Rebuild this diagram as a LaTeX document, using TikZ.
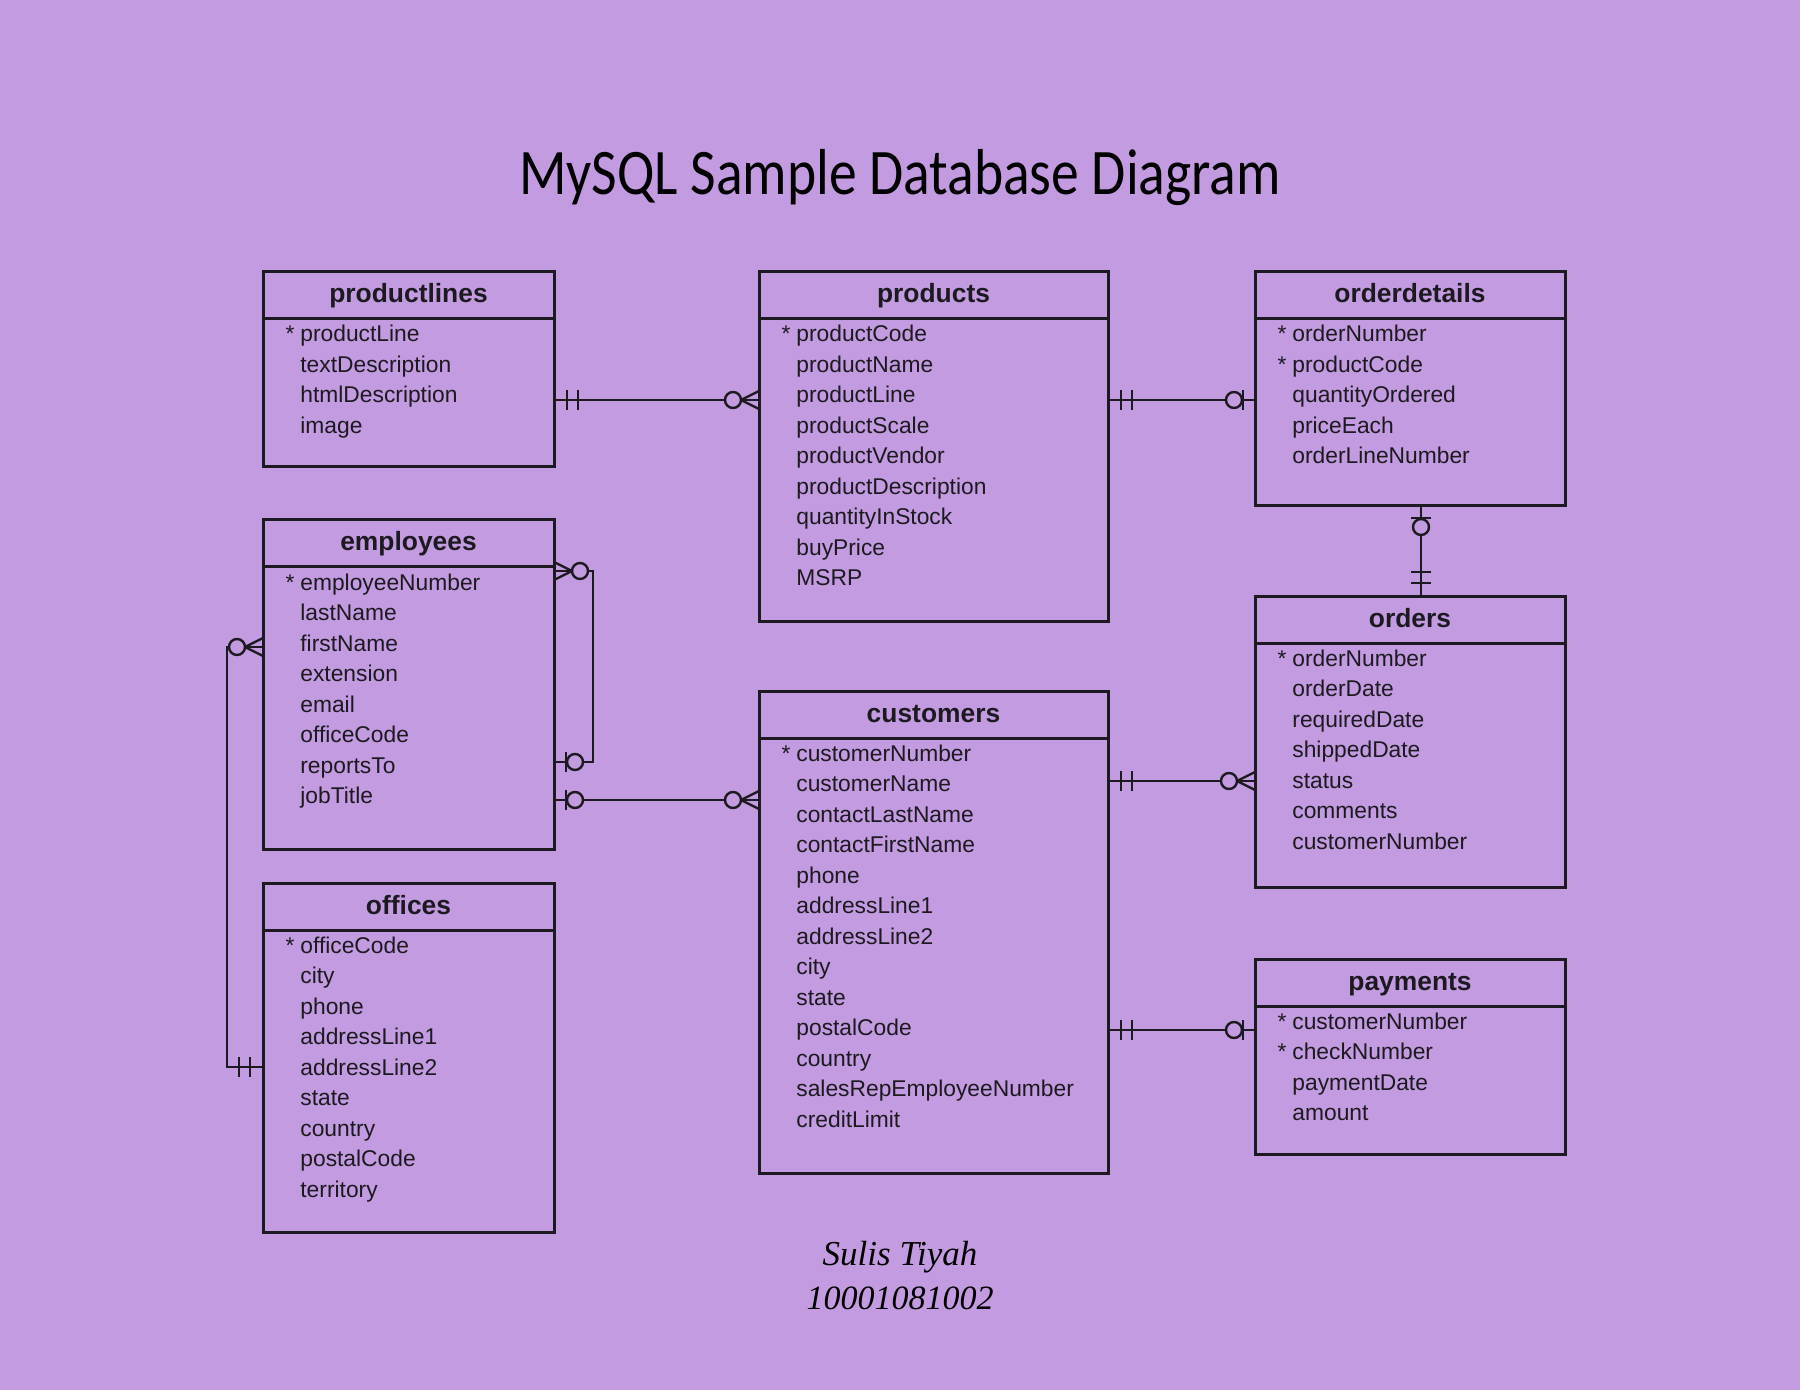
\documentclass[tikz,border=0pt]{standalone}
\usepackage{fontspec}
\setmainfont{Liberation Sans}
\newfontfamily\titlefont{Carlito}
\newfontfamily\authfont{Liberation Serif}
\usetikzlibrary{calc,fit}
\definecolor{bg}{RGB}{195,155,224}
\definecolor{ink}{RGB}{28,26,32}
\newcommand\pk[1]{\llap{*\hspace{3pt}}#1}
\tikzset{
  tbl/.style={draw=ink, line width=1.5pt, inner sep=0pt, outer sep=0pt},
  hline/.style={draw=ink, line width=1.5pt},
  ttl/.style={font=\fontsize{13.2pt}{15pt}\selectfont\bfseries, text=ink, anchor=base, inner sep=0pt},
  rowtxt/.style={font=\fontsize{11.4pt}{14pt}\selectfont, text=ink, anchor=base west, inner sep=0pt},
  conn/.style={draw=ink, line width=1.2pt},
  one/.pic={\draw[conn] (13,-10)--(13,10) (24,-10)--(24,10);},
  zeroone/.pic={\draw[conn] (12,-10)--(12,10); \draw[conn,fill=bg] (21,0) circle[radius=8];},
  zeromany/.pic={\draw[conn] (18,0)--(0,-9) (18,0)--(0,9); \draw[conn,fill=bg] (26,0) circle[radius=8];}
}
\newcommand\ertable[7]{%
  \node[tbl, fit={(#2,#3)(#4,#5)}] (#1) {};
  \draw[hline] ($(#1.north west)+(0,47)$) -- ($(#1.north east)+(0,47)$);
  \node[ttl] (#1-title) at ($(#1.north)+(0,31)$) {#6};
  \foreach \r [count=\i] in {#7} {
    \node[rowtxt] (#1-\i) at ($(#1.north west)+(37,{70+30.5*(\i-1)})$) {\r};
  }%
}
\begin{document}
\begin{tikzpicture}[x=0.5pt,y=-0.5pt]
\path[use as bounding box, fill=bg] (0,0) rectangle (1800,1390);

\node[anchor=base, inner sep=0pt, text=black] (title) at (900,195)
  {\scalebox{0.855}[1]{\titlefont\fontsize{32.5pt}{36pt}\selectfont MySQL Sample Database Diagram}};

\ertable{productlines}{263}{272}{554}{467}{productlines}
  {\pk{productLine}, textDescription, htmlDescription, image}
\ertable{products}{759}{272}{1108}{621}{products}
  {\pk{productCode}, productName, productLine, productScale, productVendor, productDescription, quantityInStock, buyPrice, MSRP}
\ertable{orderdetails}{1255}{272}{1565}{506}{orderdetails}
  {\pk{orderNumber}, \pk{productCode}, quantityOrdered, priceEach, orderLineNumber}
\ertable{employees}{263}{520}{554}{849}{employees}
  {\pk{employeeNumber}, lastName, firstName, extension, email, officeCode, reportsTo, jobTitle}
\ertable{offices}{263}{883}{554}{1232}{offices}
  {\pk{officeCode}, city, phone, addressLine1, addressLine2, state, country, postalCode, territory}
\ertable{customers}{759}{691}{1108}{1173}{customers}
  {\pk{customerNumber}, customerName, contactLastName, contactFirstName, phone, addressLine1, addressLine2, city, state, postalCode, country, salesRepEmployeeNumber, creditLimit}
\ertable{orders}{1255}{596}{1565}{887}{orders}
  {\pk{orderNumber}, orderDate, requiredDate, shippedDate, status, comments, customerNumber}
\ertable{payments}{1255}{959}{1565}{1154}{payments}
  {\pk{customerNumber}, \pk{checkNumber}, paymentDate, amount}

% productlines -- products
\draw[conn] (productlines.east |- 0,400) -- (products.west |- 0,400);
\path (productlines.east |- 0,400) pic{one};
\path (products.west |- 0,400) pic[rotate=180]{zeromany};
% products -- orderdetails
\draw[conn] (products.east |- 0,400) -- (orderdetails.west |- 0,400);
\path (products.east |- 0,400) pic{one};
\path (orderdetails.west |- 0,400) pic[rotate=180]{zeroone};
% orderdetails -- orders
\draw[conn] (orderdetails.south -| 1421,0) -- (orders.north -| 1421,0);
\path (orderdetails.south -| 1421,0) pic[rotate=-90]{zeroone};
\path (orders.north -| 1421,0) pic[rotate=90]{one};
% employees self
\draw[conn] (employees.east |- 0,571) -- ++(39,0) |- (employees.east |- 0,762);
\path (employees.east |- 0,571) pic{zeromany};
\path (employees.east |- 0,762) pic{zeroone};
% employees -- customers
\draw[conn] (employees.east |- 0,800) -- (customers.west |- 0,800);
\path (employees.east |- 0,800) pic{zeroone};
\path (customers.west |- 0,800) pic[rotate=180]{zeromany};
% employees -- offices
\draw[conn] (employees.west |- 0,647) -- ++(-36,0) |- (offices.west |- 0,1067);
\path (employees.west |- 0,647) pic[rotate=180]{zeromany};
\path (offices.west |- 0,1067) pic[rotate=180]{one};
% customers -- orders
\draw[conn] (customers.east |- 0,781) -- (orders.west |- 0,781);
\path (customers.east |- 0,781) pic{one};
\path (orders.west |- 0,781) pic[rotate=180]{zeromany};
% customers -- payments
\draw[conn] (customers.east |- 0,1030) -- (payments.west |- 0,1030);
\path (customers.east |- 0,1030) pic{one};
\path (payments.west |- 0,1030) pic[rotate=180]{zeroone};

\node[anchor=base, inner sep=0pt, text=black, font=\authfont\itshape\fontsize{17.5pt}{20pt}\selectfont] (author) at (900,1265) {Sulis Tiyah};
\node[anchor=base, inner sep=0pt, text=black, font=\authfont\itshape\fontsize{17pt}{20pt}\selectfont] (nim) at (900,1309) {10001081002};
\end{tikzpicture}
\end{document}
